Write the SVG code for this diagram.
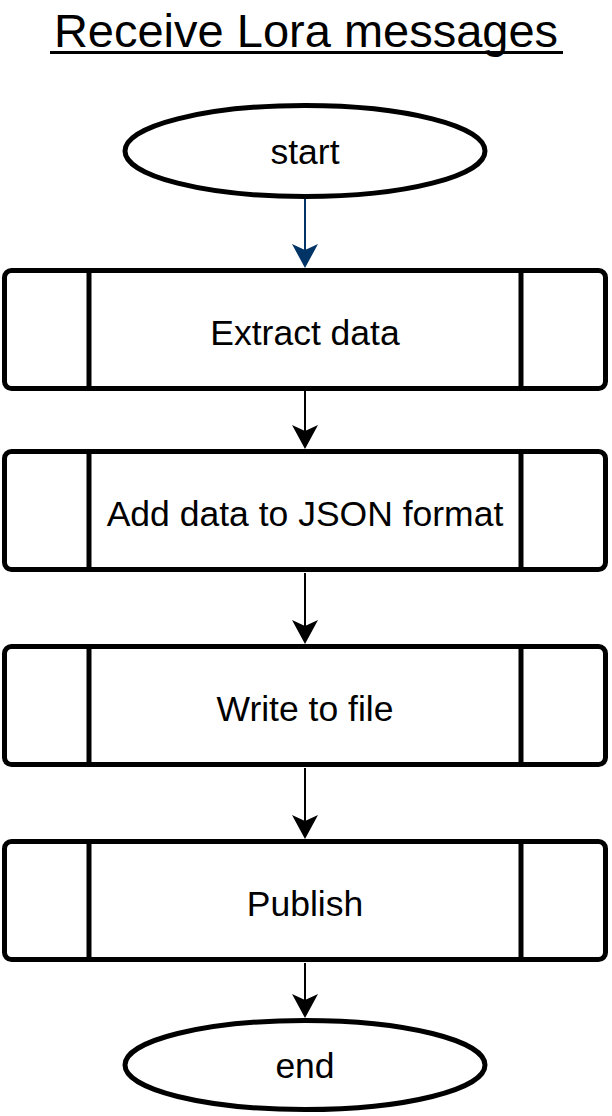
<svg xmlns="http://www.w3.org/2000/svg" width="612" height="1116" viewBox="0 0 612 1116">
  <style>
    .shape { fill: #ffffff; stroke: #000000; stroke-width: 5; }
    .div { stroke: #000000; stroke-width: 5; }
    .label { font-family: "Liberation Sans", Arial, sans-serif; font-size: 35.5px; fill: #000000; text-anchor: middle; }
    .title { font-family: "Liberation Sans", Arial, sans-serif; font-size: 47px; fill: #000000; text-anchor: middle; }
    .edge { fill: none; stroke: #000000; stroke-width: 2; }
    .edge-blue { fill: none; stroke: #003366; stroke-width: 2; }
  </style>
  <defs>
    <marker id="arrow" markerUnits="userSpaceOnUse" viewBox="0 0 24 26" markerWidth="24" markerHeight="26" refX="14" refY="13" orient="auto">
      <path d="M0,0 L24,13 L0,26 L6,13 Z" fill="#000000"/>
    </marker>
    <marker id="arrow-blue" markerUnits="userSpaceOnUse" viewBox="0 0 24 26" markerWidth="24" markerHeight="26" refX="14" refY="13" orient="auto">
      <path d="M0,0 L24,13 L0,26 L6,13 Z" fill="#003366"/>
    </marker>
  </defs>

  <g id="title">
    <text class="title" x="306" y="47">Receive Lora messages</text>
    <rect x="50" y="51" width="513" height="3" fill="#000000"/>
  </g>

  <g id="connectors">
    <line class="edge-blue" x1="305" y1="199" x2="305" y2="258" marker-end="url(#arrow-blue)"/>
    <line class="edge" x1="305" y1="391" x2="305" y2="439" marker-end="url(#arrow)"/>
    <line class="edge" x1="305" y1="573" x2="305" y2="634" marker-end="url(#arrow)"/>
    <line class="edge" x1="305" y1="768" x2="305" y2="829" marker-end="url(#arrow)"/>
    <line class="edge" x1="305" y1="963" x2="305" y2="1008" marker-end="url(#arrow)"/>
  </g>

  <g id="start">
    <ellipse class="shape" cx="305" cy="151" rx="180" ry="45.5"/>
    <text class="label" x="305" y="164">start</text>
  </g>

  <g id="extract-data">
    <rect class="shape" x="4.5" y="270.5" width="601" height="118" rx="7" ry="7"/>
    <line class="div" x1="89" y1="270.5" x2="89" y2="388.5"/>
    <line class="div" x1="521" y1="270.5" x2="521" y2="388.5"/>
    <text class="label" x="305" y="345">Extract data</text>
  </g>

  <g id="add-json">
    <rect class="shape" x="4.5" y="451.5" width="601" height="118" rx="7" ry="7"/>
    <line class="div" x1="89" y1="451.5" x2="89" y2="569.5"/>
    <line class="div" x1="521" y1="451.5" x2="521" y2="569.5"/>
    <text class="label" x="305" y="526">Add data to JSON format</text>
  </g>

  <g id="write-file">
    <rect class="shape" x="4.5" y="646.5" width="601" height="118" rx="7" ry="7"/>
    <line class="div" x1="89" y1="646.5" x2="89" y2="764.5"/>
    <line class="div" x1="521" y1="646.5" x2="521" y2="764.5"/>
    <text class="label" x="305" y="721">Write to file</text>
  </g>

  <g id="publish">
    <rect class="shape" x="4.5" y="841.5" width="601" height="118" rx="7" ry="7"/>
    <line class="div" x1="89" y1="841.5" x2="89" y2="959.5"/>
    <line class="div" x1="521" y1="841.5" x2="521" y2="959.5"/>
    <text class="label" x="305" y="916">Publish</text>
  </g>

  <g id="end">
    <ellipse class="shape" cx="305" cy="1065" rx="180" ry="44.5"/>
    <text class="label" x="305" y="1078">end</text>
  </g>
</svg>
